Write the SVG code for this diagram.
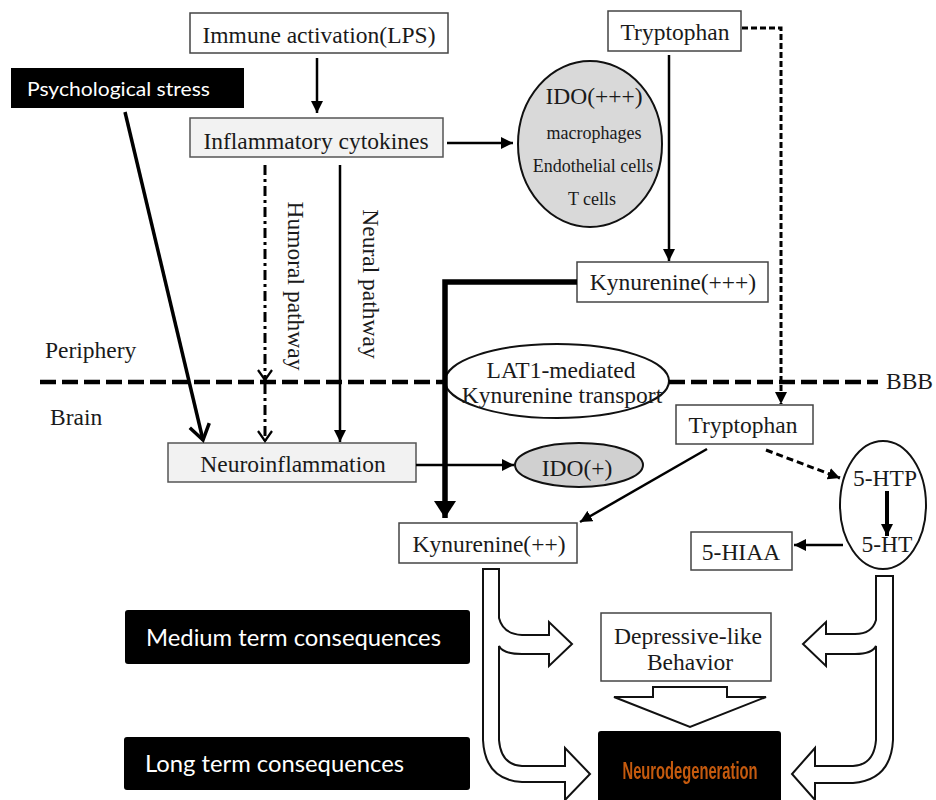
<svg xmlns="http://www.w3.org/2000/svg" width="936" height="800" viewBox="0 0 936 800">
  <style>
    .t { font-family: "Liberation Serif", "Times New Roman", serif; font-size: 23.5px; fill: #1a1a1a; text-anchor: middle; }
    .ts { font-family: "Liberation Serif", "Times New Roman", serif; font-size: 18px; fill: #1a1a1a; text-anchor: middle; }
    .tl { font-family: "Liberation Serif", "Times New Roman", serif; font-size: 23.5px; fill: #1a1a1a; }
    .s { font-family: Lato, "Open Sans", sans-serif; fill: #ffffff; }
    .box { fill: #ffffff; stroke: #444; stroke-width: 1.5; }
    .gbox { fill: #f2f2f2; stroke: #555; stroke-width: 1.5; }
    .dark { fill: #000000; }
    .ln { fill: none; stroke: #000; stroke-width: 2.5; }
    .hollow { fill: #ffffff; stroke: #111; stroke-width: 2; stroke-linejoin: miter; }
  </style>
  <defs>
    <marker id="ah" markerUnits="userSpaceOnUse" markerWidth="13" markerHeight="12" refX="12" refY="6" orient="auto">
      <path d="M0,0 L12,6 L0,12 z" fill="#000"/>
    </marker>
    <marker id="ahBig" markerUnits="userSpaceOnUse" markerWidth="18" markerHeight="22" refX="17" refY="11" orient="auto">
      <path d="M0,0 L17,11 L0,22 z" fill="#000"/>
    </marker>
    <marker id="chev" markerUnits="userSpaceOnUse" markerWidth="14" markerHeight="16" refX="11" refY="8" orient="auto">
      <path d="M1,1 L11,8 L1,15" fill="none" stroke="#000" stroke-width="2.2"/>
    </marker>
    <marker id="chevBig" markerUnits="userSpaceOnUse" markerWidth="20" markerHeight="24" refX="17" refY="12" orient="auto">
      <path d="M2,2 L17,12 L2,22" fill="none" stroke="#000" stroke-width="3.5"/>
    </marker>
    <filter id="soft" x="-5%" y="-30%" width="110%" height="160%">
      <feGaussianBlur stdDeviation="0.6"/>
    </filter>
  </defs>

  <!-- region labels -->
  <g id="labels">
    <text class="tl" x="45" y="358">Periphery</text>
    <text class="tl" x="50" y="425">Brain</text>
    <text class="tl" x="886" y="389">BBB</text>
  </g>

  <g id="immune-activation">
    <rect class="box" x="190" y="13" width="258" height="40"/>
    <text class="t" x="319" y="43">Immune activation(LPS)</text>
  </g>

  <g id="psychological-stress">
    <rect class="dark" x="11" y="68" width="233" height="40"/>
    <text class="s" x="27" y="96" font-size="20" textLength="183" lengthAdjust="spacingAndGlyphs">Psychological stress</text>
  </g>

  <g id="inflammatory-cytokines">
    <rect class="gbox" x="190" y="118" width="253" height="39"/>
    <text class="t" x="316" y="149">Inflammatory cytokines</text>
  </g>

  <g id="pathway-labels">
    <text class="t" transform="translate(288,286) rotate(90)" x="0" y="0">Humoral pathway</text>
    <text class="t" transform="translate(363,284) rotate(90)" x="0" y="0">Neural pathway</text>
  </g>

  <g id="ido-periphery">
    <ellipse cx="590" cy="144" rx="72" ry="83" fill="#d9d9d9" stroke="#111" stroke-width="2"/>
    <text class="t" x="594" y="104">IDO(+++)</text>
    <text class="ts" x="594" y="139">macrophages</text>
    <text class="ts" x="593" y="172">Endothelial cells</text>
    <text class="ts" x="592" y="205">T  cells</text>
  </g>

  <g id="tryptophan-periphery">
    <rect class="box" x="608" y="11" width="133" height="40"/>
    <text class="t" x="675" y="40">Tryptophan</text>
  </g>

  <g id="kynurenine-periphery">
    <rect class="box" x="577" y="262" width="191" height="40"/>
    <text class="t" x="673" y="290">Kynurenine(+++)</text>
  </g>

  <g id="lat1-transport">
    <ellipse cx="557" cy="381" rx="112" ry="37" fill="#ffffff" stroke="#111" stroke-width="2"/>
    <text class="t" x="561" y="378" font-size="21">LAT1-mediated</text>
    <text class="t" x="562" y="403" font-size="21">Kynurenine transport</text>
  </g>

  <g id="neuroinflammation">
    <rect class="gbox" x="168" y="443" width="248" height="39"/>
    <text class="t" x="293" y="472">Neuroinflammation</text>
  </g>

  <g id="ido-brain">
    <ellipse cx="579" cy="465" rx="64" ry="22" fill="#d0d0d0" stroke="#111" stroke-width="2"/>
    <text class="t" x="577" y="476">IDO(+)</text>
  </g>

  <g id="tryptophan-brain">
    <rect class="box" x="676" y="405" width="137" height="39"/>
    <text class="t" x="743" y="433">Tryptophan</text>
  </g>

  <g id="kynurenine-brain">
    <rect class="box" x="399" y="523" width="178" height="40"/>
    <text class="t" x="489" y="552">Kynurenine(++)</text>
  </g>

  <g id="serotonin">
    <ellipse cx="883" cy="505" rx="43" ry="64" fill="#ffffff" stroke="#111" stroke-width="2"/>
    <text class="t" x="885" y="486">5-HTP</text>
    <text class="t" x="887" y="552">5-HT</text>
  </g>

  <g id="hiaa">
    <rect class="box" x="691" y="532" width="101" height="38"/>
    <text class="t" x="741" y="560">5-HIAA</text>
  </g>

  <g id="medium-term">
    <rect class="dark" x="125" y="610" width="345" height="54" rx="3"/>
    <text class="s" x="146" y="646" font-size="23" textLength="295" lengthAdjust="spacingAndGlyphs">Medium term consequences</text>
  </g>

  <g id="long-term">
    <rect class="dark" x="124" y="737" width="346" height="53" rx="3"/>
    <text class="s" x="145" y="772" font-size="23" textLength="259" lengthAdjust="spacingAndGlyphs">Long term consequences</text>
  </g>

  <g id="depressive-behavior">
    <rect class="box" x="601" y="613" width="170" height="68" stroke="#222"/>
    <text class="t" x="688" y="644" textLength="148" lengthAdjust="spacingAndGlyphs">Depressive-like</text>
    <text class="t" x="690" y="670">Behavior</text>
  </g>

  <g id="neurodegeneration">
    <rect class="dark" x="598" y="731" width="183" height="75" rx="3"/>
    <text x="690" y="779" text-anchor="middle" font-family="'Liberation Sans Narrow', 'Liberation Sans', Arial, sans-serif" font-weight="bold" font-size="23" fill="#c55a11" textLength="135" lengthAdjust="spacingAndGlyphs" filter="url(#soft)">Neurodegeneration</text>
  </g>

  <!-- connectors, drawn over the nodes -->
  <g id="connectors">
    <!-- BBB dashed boundary, interrupted by the transporter -->
    <line x1="40" y1="382" x2="445" y2="382" stroke="#000" stroke-width="4.5" stroke-dasharray="16 6"/>
    <line x1="669" y1="382" x2="878" y2="382" stroke="#000" stroke-width="4.5" stroke-dasharray="16 6"/>

    <!-- immune activation to cytokines -->
    <line class="ln" x1="317" y1="58" x2="317" y2="113" marker-end="url(#ah)"/>
    <!-- cytokines to IDO(+++) -->
    <line class="ln" x1="447" y1="143" x2="513" y2="143" marker-end="url(#ah)"/>
    <!-- psychological stress to neuroinflammation -->
    <line x1="125" y1="112" x2="203" y2="440" stroke="#000" stroke-width="3.5" marker-end="url(#chevBig)"/>
    <!-- humoral pathway -->
    <line x1="265" y1="165" x2="265" y2="380" stroke="#000" stroke-width="3" stroke-dasharray="10 4 3 4" marker-end="url(#chev)"/>
    <line x1="265" y1="384" x2="265" y2="441" stroke="#000" stroke-width="3" stroke-dasharray="10 4 3 4" marker-end="url(#chev)"/>
    <!-- neural pathway -->
    <line class="ln" x1="340" y1="165" x2="340" y2="442" marker-end="url(#ah)"/>
    <!-- tryptophan to kynurenine(+++) -->
    <line class="ln" x1="669" y1="55" x2="669" y2="261" marker-end="url(#ah)"/>
    <!-- tryptophan crossing the barrier -->
    <polyline points="742,28 781,28 781,404" fill="none" stroke="#000" stroke-width="3" stroke-dasharray="6 3" marker-end="url(#ah)"/>
    <!-- kynurenine(+++) transport into the brain -->
    <polyline points="577,282 445,282 445,518" fill="none" stroke="#000" stroke-width="5.5" marker-end="url(#ahBig)"/>
    <!-- neuroinflammation to IDO(+) -->
    <line class="ln" x1="416" y1="465" x2="514" y2="465" marker-end="url(#ah)"/>
    <!-- brain tryptophan to kynurenine(++) -->
    <line class="ln" x1="707" y1="449" x2="580" y2="522" marker-end="url(#ah)"/>
    <!-- brain tryptophan to 5-HTP -->
    <line x1="766" y1="450" x2="840" y2="478" stroke="#000" stroke-width="3" stroke-dasharray="7 4" marker-end="url(#ah)"/>
    <!-- 5-HTP to 5-HT -->
    <line x1="887" y1="491" x2="887" y2="536" stroke="#000" stroke-width="4" marker-end="url(#ah)"/>
    <!-- 5-HT to 5-HIAA -->
    <line class="ln" x1="843" y1="545" x2="794" y2="545" marker-end="url(#ah)"/>

    <!-- hollow block arrows: kynurenine branch -->
    <path class="hollow" d="M483,569 L499,569 L499,618 Q503,634 522,635 L549,635 L549,622 L572,644 L549,666 L549,654 L522,654 Q503,654 499,646 L499,740 Q501,765 522,766 L565,766 L565,748 L590,774 L565,800 L565,782 L522,782 Q485,780 483,740 Z"/>
    <!-- hollow block arrows: serotonin branch -->
    <path class="hollow" d="M893,576 L876,576 L876,620 Q872,634 855,634 L826,634 L826,622 L803,644 L826,666 L826,654 L855,654 Q872,654 876,646 L876,740 Q874,765 853,766 L815,766 L815,748 L792,774 L815,800 L815,783 L853,783 Q891,780 893,740 Z"/>
    <!-- depressive-like behaviour to neurodegeneration -->
    <polygon class="hollow" points="653,687 727,687 727,697 766,697 690,727 614,697 653,697"/>
  </g>
</svg>
